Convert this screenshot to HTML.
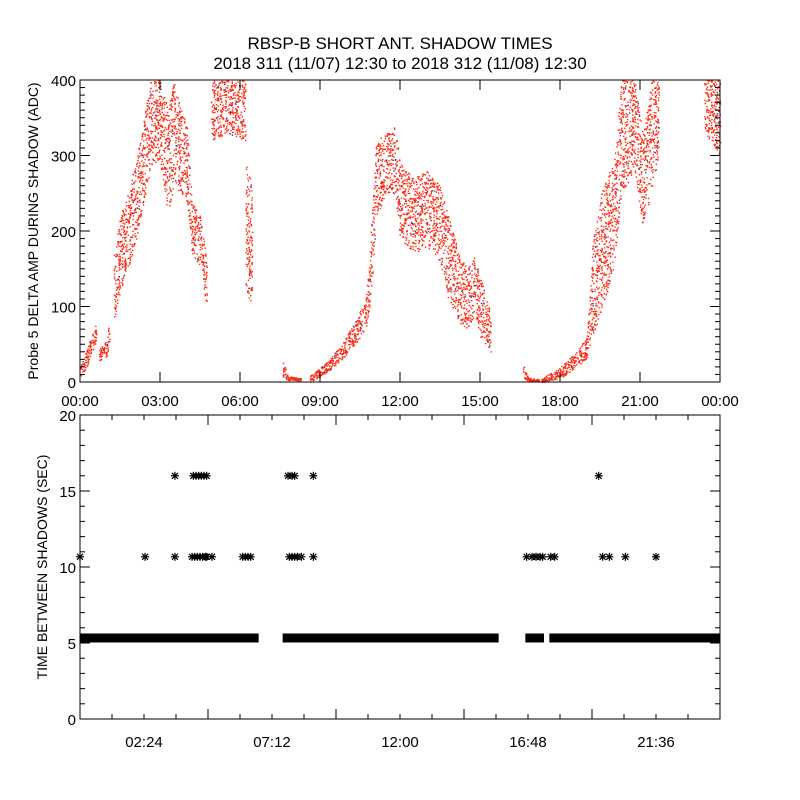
<!DOCTYPE html>
<html><head><meta charset="utf-8"><style>
body{margin:0;background:#fff}
svg{display:block}
text{font-family:"Liberation Sans",sans-serif;fill:#000}
</style></head><body>
<svg id="c" width="800" height="800" xmlns="http://www.w3.org/2000/svg">
<rect width="800" height="800" fill="#fff"/>
<text x="400" y="49" text-anchor="middle" font-size="17">RBSP-B SHORT ANT. SHADOW TIMES</text>
<text x="400" y="69" text-anchor="middle" font-size="17">2018 311 (11/07) 12:30 to 2018 312 (11/08) 12:30</text>
<g id="top"></g>
<g id="bot"></g>
</svg>
<script>
// top panel data: envelope samples [segment, hour, low, high]
const segIds = [0,0,0, 1,1,1, 2,2,2,2,2,2,2,2,2,2,2,2,2,2, 3,3,3, 4,4, 5,5,5, 6,6,6,6,6,6,6,6,6,6,6,6,6,6,6,6,6,6,6, 7,7,7, 8,8,8,8,8,8,8,8,8,8,8,8, 9,9];
const hours = [0,0.3,0.6, 0.7,1.0,1.1, 1.25,1.5,1.8,2.1,2.4,2.6,3.0,3.3,3.5,3.8,4.0,4.2,4.5,4.75, 4.9,5.5,6.2, 6.2,6.45, 7.6,7.8,8.3, 8.6,9.2,9.8,10.3,10.7,10.9,11.1,11.5,11.8,12.0,12.5,13.0,13.5,13.8,14.2,14.5,14.8,15.0,15.4, 16.6,16.8,17.2, 17.3,18.0,18.6,19.0,19.2,19.6,20.0,20.3,20.8,21.1,21.4,21.7, 23.4,24];
const lows = [5,25,55, 28,35,55, 80,120,150,190,240,280,290,220,260,250,240,170,150,100, 320,330,320, 120,100, 5,3,2, 0,12,30,50,70,110,220,250,250,190,170,180,160,110,80,70,90,60,40, 5,2,1, 0,5,20,30,60,100,150,250,280,200,250,300, 330,300];
const highs = [20,50,78, 45,55,85, 170,220,250,300,350,400,400,360,400,360,340,240,220,160, 400,400,400, 300,260, 30,8,5, 8,25,50,80,110,200,320,330,340,290,270,280,260,220,170,150,170,140,90, 25,6,4, 5,20,40,60,180,260,290,400,400,330,400,400, 400,400];
const topYTicks = [0,100,200,300,400];
const topXLabels = ["00:00","03:00","06:00","09:00","12:00","15:00","18:00","21:00","00:00"];
// bottom panel data
const baseValue = 5.33;
const baseStart = [0, 7.6, 16.7, 17.6];
const baseEnd = [6.7, 15.7, 17.4, 24];
const midValue = 10.67;
const midHours = [0,2.44,3.56,4.2,4.3,4.4,4.5,4.6,4.7,4.75,4.95,6.1,6.2,6.3,6.4,7.85,7.95,8.05,8.15,8.3,8.75,16.75,16.95,17.1,17.25,17.35,17.65,17.8,19.6,19.85,20.45,21.6];
const highValue = 16;
const highHours = [3.56,4.25,4.35,4.45,4.55,4.65,4.75,7.8,7.95,8.05,8.75,19.45];
const botYTicks = [0,5,10,15,20];
const botXLabels = ["02:24","07:12","12:00","16:48","21:36"];

const NS="http://www.w3.org/2000/svg";
function mk(tag,attrs,parent){const e=document.createElementNS(NS,tag);for(const k in attrs)e.setAttribute(k,attrs[k]);parent.appendChild(e);return e;}
function hash(n){const s=Math.sin(n*12.9898)*43758.5453;return s-Math.floor(s);}
const L=80,R=720;
const xs=h=>L+(R-L)*h/24;
// ----- top panel
const T0=80,T1=382;
const yT=v=>T1-(T1-T0)*v/400;
const topG=document.getElementById('top');
const dots=mk('g',{},topG);


let q=0;
for(let i=0;i<hours.length-1;i++){
  if(segIds[i]!==segIds[i+1])continue;
  const x0=xs(hours[i]),x1=xs(hours[i+1]);
  const hpx=((yT(lows[i])-yT(highs[i]))+(yT(lows[i+1])-yT(highs[i+1])))/2;
  const n=Math.round((x1-x0)*(hpx*0.13+4));
  for(let k=0;k<n;k++){
    q++;
    const f=hash(q*1.37+0.5);
    const g=hash(q*2.71+7.1);
    const lo=lows[i]+(lows[i+1]-lows[i])*f, hi=highs[i]+(highs[i+1]-highs[i])*f;
    const v=lo+(hi-lo)*g;
    mk('rect',{x:(x0+(x1-x0)*f).toFixed(1),y:yT(v).toFixed(1),width:1.4,height:1.4,fill:(q%23===0)?'#2040a0':'#ff2a10'},dots);
  }
}
const tf=mk('rect',{x:L,y:T0,width:R-L,height:T1-T0,fill:'none',stroke:'#000','stroke-width':1},topG);


for(let v=0;v<=400;v+=10){const y=yT(v),len=v%100===0?10:5;
  mk('line',{x1:L,x2:L+len,y1:y,y2:y,stroke:'#000'},topG);mk('line',{x1:R,x2:R-len,y1:y,y2:y,stroke:'#000'},topG);}
topYTicks.forEach(v=>{const t=mk('text',{x:L-4,y:yT(v)+6,'text-anchor':'end','font-size':15},topG);t.textContent=v;
  });
topXLabels.forEach((s,i)=>{const x=xs(i*3);
  mk('line',{x1:x,x2:x,y1:T1,y2:T1-10,stroke:'#000'},topG);mk('line',{x1:x,x2:x,y1:T0,y2:T0+10,stroke:'#000'},topG);
  const t=mk('text',{x:x,y:T1+24,'text-anchor':'middle','font-size':15},topG);t.textContent=s;
  });
const ty=mk('text',{x:0,y:0,'text-anchor':'middle','font-size':14,transform:`translate(38,${(T0+T1)/2}) rotate(-90)`},topG);
ty.textContent='Probe 5 DELTA AMP DURING SHADOW (ADC)';

// ----- bottom panel
const B0=415,B1=719;
const yB=v=>B1-(B1-B0)*v/20;
const botG=document.getElementById('bot');
const stars=mk('g',{stroke:'#000','stroke-width':1.2},botG);


function star(h,v){const x=xs(h),y=yB(v),s=4;
  const g=mk('g',{},stars);
  mk('line',{x1:x-s,x2:x+s,y1:y,y2:y},g);mk('line',{x1:x,x2:x,y1:y-s,y2:y+s},g);
  mk('line',{x1:x-3,x2:x+3,y1:y-3,y2:y+3},g);mk('line',{x1:x-3,x2:x+3,y1:y+3,y2:y-3},g);}
for(let i=0;i<baseStart.length;i++){
  const band=mk('rect',{x:xs(baseStart[i]),y:yB(baseValue)-4.5,width:xs(baseEnd[i])-xs(baseStart[i]),height:9,fill:'#000'},botG);
  
}
midHours.forEach(h=>star(h,midValue));
highHours.forEach(h=>star(h,highValue));
const bf=mk('rect',{x:L,y:B0,width:R-L,height:B1-B0,fill:'none',stroke:'#000','stroke-width':1},botG);

for(let v=0;v<=20;v++){const y=yB(v),len=v%5===0?10:5;
  mk('line',{x1:L,x2:L+len,y1:y,y2:y,stroke:'#000'},botG);mk('line',{x1:R,x2:R-len,y1:y,y2:y,stroke:'#000'},botG);}
for(let h=1.2;h<24;h+=1.2){const x=xs(h),len=Math.abs((h/4.8)-Math.round(h/4.8))<0.01?10:5;
  mk('line',{x1:x,x2:x,y1:B1,y2:B1-len,stroke:'#000'},botG);mk('line',{x1:x,x2:x,y1:B0,y2:B0+len,stroke:'#000'},botG);}
botYTicks.forEach(v=>{const t=mk('text',{x:L-4,y:yB(v)+6,'text-anchor':'end','font-size':15},botG);t.textContent=v;
  });
botXLabels.forEach((s,i)=>{const t=mk('text',{x:xs(2.4+4.8*i),y:B1+28,'text-anchor':'middle','font-size':15},botG);t.textContent=s;
  });
const by=mk('text',{x:0,y:0,'text-anchor':'middle','font-size':14,transform:`translate(47,${(B0+B1)/2}) rotate(-90)`},botG);
by.textContent='TIME BETWEEN SHADOWS (SEC)';

</script>
</body></html>
